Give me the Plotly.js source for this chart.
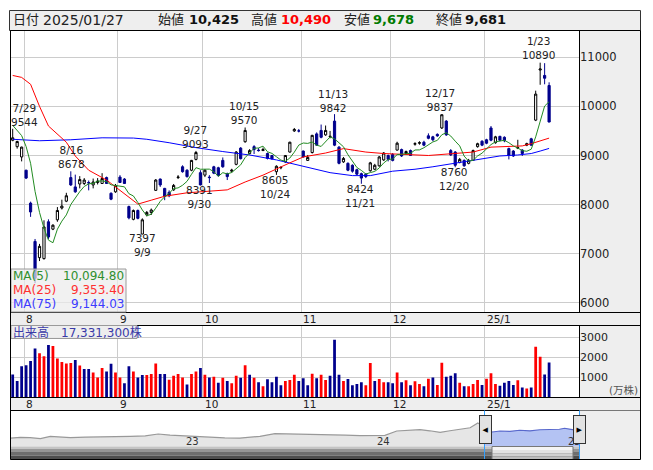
<!DOCTYPE html>
<html>
<head>
<meta charset="utf-8">
<script src="https://cdn.plot.ly/plotly-3.0.1.min.js"></script>
<style>
html,body{margin:0;padding:0;background:#ffffff;}
#chart{width:653px;height:470px;}
</style>
</head>
<body>
<div id="chart"></div>
<script>
// ---------------- DATA ----------------
const dates = ['2024-07-29','2024-07-30','2024-07-31',
'2024-08-01','2024-08-02','2024-08-05','2024-08-06','2024-08-07','2024-08-08','2024-08-09','2024-08-13','2024-08-14','2024-08-15','2024-08-16','2024-08-19','2024-08-20','2024-08-21','2024-08-22','2024-08-23','2024-08-26','2024-08-27','2024-08-28','2024-08-29','2024-08-30',
'2024-09-02','2024-09-03','2024-09-04','2024-09-05','2024-09-06','2024-09-09','2024-09-10','2024-09-11','2024-09-12','2024-09-13','2024-09-17','2024-09-18','2024-09-19','2024-09-20','2024-09-24','2024-09-25','2024-09-26','2024-09-27','2024-09-30',
'2024-10-01','2024-10-02','2024-10-03','2024-10-04','2024-10-07','2024-10-08','2024-10-09','2024-10-10','2024-10-11','2024-10-15','2024-10-16','2024-10-17','2024-10-18','2024-10-21','2024-10-22','2024-10-23','2024-10-24','2024-10-25','2024-10-28','2024-10-29','2024-10-30','2024-10-31',
'2024-11-01','2024-11-05','2024-11-06','2024-11-07','2024-11-08','2024-11-11','2024-11-12','2024-11-13','2024-11-14','2024-11-15','2024-11-18','2024-11-19','2024-11-20','2024-11-21','2024-11-22','2024-11-25','2024-11-26','2024-11-27','2024-11-28','2024-11-29',
'2024-12-02','2024-12-03','2024-12-04','2024-12-05','2024-12-06','2024-12-09','2024-12-10','2024-12-11','2024-12-12','2024-12-13','2024-12-16','2024-12-17','2024-12-18','2024-12-19','2024-12-20','2024-12-23','2024-12-24','2024-12-25','2024-12-26','2024-12-27','2024-12-30',
'2025-01-06','2025-01-07','2025-01-08','2025-01-09','2025-01-10','2025-01-14','2025-01-15','2025-01-16','2025-01-17','2025-01-20','2025-01-21','2025-01-22','2025-01-23','2025-01-24','2025-01-27'];

const open = [9310,9180,8970,8700,8030,7250,6920,6900,7650,7500,
 7690,7930,8070,8550,8360,8420,8430,8450,8400,8450,
 8430,8550,8230,8260,8560,8520,7960,7700,7880,7400,
 7790,7840,8290,8520,8330,8250,8300,8550,8770,8700,
 8700,8920,8650,8600,8560,8770,8750,8900,8630,8680,
 8820,9150,9280,9040,9180,9110,9100,9040,9000,8670,
 8750,8870,9070,9500,9500,9090,8900,9060,9440,9510,
 9420,9380,9700,9170,8870,8840,8800,8710,8630,8620,
 8690,8720,8790,8910,9000,9020,9110,9120,9040,9100,
 9230,9250,9270,9400,9380,9430,9560,9700,9100,9070,
 8860,8900,8840,8900,9180,9290,9320,9560,9260,9390,
 9370,9140,9090,9150,9110,9210,9340,9720,10740,10630,
 10425];

const high = [9544,9300,9180,8710,8060,7300,7200,7680,7700,7600,
 7950,8100,8240,8678,8610,8580,8540,8490,8530,8540,
 8640,8570,8250,8420,8600,8540,7980,7900,7900,7720,
 7870,7920,8520,8530,8340,8290,8420,8600,8800,8720,
 8910,9093,8700,8720,8600,8790,8770,8960,8650,8730,
 9090,9170,9570,9130,9210,9150,9160,9060,9010,8800,
 8770,9010,9280,9560,9540,9100,9010,9420,9470,9630,
 9610,9500,9842,9190,8970,8860,8820,8730,8650,8640,
 8870,8830,8990,9070,9020,9050,9280,9140,9100,9120,
 9270,9290,9300,9450,9400,9450,9837,9720,9130,9090,
 8950,8920,8930,9120,9260,9310,9340,9600,9400,9400,
 9390,9160,9110,9320,9130,9260,9360,10320,10890,10880,
 10490];

const low = [9290,9140,8880,8520,7750,6400,6850,6880,7300,7480,
 7650,7900,8050,8380,8240,8330,8400,8290,8330,8410,
 8420,8420,8090,8240,8440,8420,7700,7680,7700,7397,
 7760,7790,8280,8360,8090,8150,8280,8520,8650,8550,
 8680,8900,8391,8560,8440,8620,8570,8750,8500,8650,
 8800,8920,9260,9020,9030,9080,9090,8920,8920,8605,
 8720,8850,9060,9480,9470,8960,8890,9040,9200,9350,
 9400,9350,9190,8820,8850,8680,8650,8600,8424,8540,
 8670,8700,8770,8890,8880,8880,9100,8970,9020,8990,
 9200,9220,9190,9330,9290,9380,9540,9400,8990,8760,
 8840,8770,8820,8890,9160,9190,9230,9290,9240,9290,
 9270,8920,8970,9130,8990,9190,9200,9700,10440,10450,
 9678];

const close = [9360,9285,9170,8540,7850,6500,7150,7545,7340,7580,
 7880,7970,8180,8400,8260,8510,8500,8440,8460,8480,
 8530,8430,8110,8390,8450,8430,7730,7880,7720,7690,
 7840,7890,8500,8400,8170,8180,8390,8560,8670,8570,
 8900,9060,8400,8700,8550,8640,8590,8770,8570,8700,
 9070,8935,9510,9100,9120,9100,9120,8940,8930,8780,
 8760,9000,9270,9530,9500,8970,8960,9410,9210,9370,
 9510,9390,9210,8840,8940,8700,8680,8620,8540,8570,
 8850,8800,8970,9050,8920,8900,9250,8990,9080,9000,
 9240,9260,9210,9350,9320,9400,9830,9420,9010,8800,
 8920,8790,8900,9100,9240,9210,9250,9310,9380,9310,
 9300,9000,8990,9160,9040,9240,9210,10250,10760,10573,
 9681];

// volume in 万株 (10,000 shares)
const volume = [1148,816,1553,1605,1816,2430,2200,2042,2605,2553,
 1937,1763,1693,1710,1868,1588,1413,1413,1237,991,
 1465,1289,1675,1237,991,711,1553,1289,991,1114,
 1114,1167,1693,1167,1167,886,1079,1167,991,640,
 1167,1289,1465,1130,991,1030,728,975,816,711,
 1079,975,1605,1132,975,763,553,905,763,1026,
 605,816,868,1132,816,958,605,1184,958,1132,
 868,1079,2868,1132,816,921,605,675,763,605,
 1710,816,921,763,763,711,1237,763,860,613,
 808,675,553,937,991,621,1728,1026,1079,1202,
 728,553,553,675,868,621,937,1202,675,589,
 728,816,621,851,500,447,500,2516,2026,1147,
 1733.13];

// closes of the 4 sessions before 7/29 (for the 5-day average)
const preCloses = [9800, 9700, 9650, 9560];

// 25-day and 75-day moving averages (session index, value)
const ma25Idx = [0,2,4,6,8,12,14,17,21,25,28,31,34,39,43,48,52,56,62,65,70,74,79,83,93,100,103,107,114,116,120];
const ma25Val = [10630,10590,10450,10000,9600,9270,8990,8700,8500,8220,8010,8090,8170,8240,8260,8300,8460,8600,8850,8970,9050,9140,9070,9040,9000,9040,9070,9170,9195,9240,9353.40];
const ma75Idx = [0,6,13,20,27,30,35,41,47,53,59,63,66,71,76,80,85,90,94,100,104,109,113,116,118,120];
const ma75Val = [9330,9300,9320,9360,9355,9330,9260,9160,9080,9010,8910,8820,8760,8650,8590,8590,8680,8720,8770,8860,8930,8990,9010,9040,9090,9144.03];

const monthLabels = ['8','9','10','11','12','25/1'];

// price peaks / troughs marked on the chart
const markDates = ['2024-07-29','2024-08-16','2024-09-27','2024-09-30','2024-09-09','2024-10-15','2024-10-24','2024-11-13','2024-11-21','2024-12-17','2024-12-20','2025-01-23'];
const markKinds = ['H','H','H','L','L','H','L','H','L','H','L','H'];

// navigator overview series
const navDates = ['2022-01-22','2022-02-10','2022-03-01','2022-03-21','2022-04-09','2022-04-28','2022-05-18','2022-06-16','2022-07-16','2022-08-14','2022-09-11','2022-10-10','2022-11-04','2022-11-27','2022-12-16',
 '2023-01-14','2023-02-12','2023-03-13','2023-04-11','2023-05-20','2023-06-18','2023-07-17','2023-08-06','2023-09-04','2023-10-03','2023-11-01','2023-11-30','2023-12-29',
 '2024-01-17','2024-02-09','2024-03-05','2024-03-25','2024-04-13','2024-05-03','2024-05-22','2024-06-10','2024-06-30','2024-07-15','2024-07-29'];
const navValues = [7306,7471,7400,7165,7706,7518,7400,7541,7541,7635,7706,7824,8247,7988,7871,
 7588,7400,7353,7306,7706,8341,8294,8247,8176,8106,7988,7871,7871,
 7941,8953,9118,9282,9000,8647,9000,9282,9706,10835,9588];
const navViewDates = ['2024-07-29','2024-08-12','2024-08-27','2024-09-15','2024-10-04','2024-10-24','2024-11-12','2024-12-01','2024-12-20','2024-12-30','2025-01-14','2025-01-27'];
const navViewValues = [9588,8718,8953,8882,9118,9000,9235,9282,9353,9588,9282,9353];
const navYearLabels = ['23','24','25'];

// ---------------- BUILD ----------------
const FONT = 'DejaVu Sans, Noto Sans CJK JP, sans-serif';
const W = 653, H = 470;
const P = x => x / W, Q = y => 1 - y / H;
const idx = dates.map((d, i) => i);
const n = dates.length - 1;
const allC = preCloses.concat(close);
const ma5 = close.map((c, i) => (allC[i] + allC[i+1] + allC[i+2] + allC[i+3] + allC[i+4]) / 5);
const UP = '#ff0000', DOWN = '#00008c';
const volColor = close.map((c, i) => c >= (i ? close[i-1] : preCloses[preCloses.length-1]) ? UP : DOWN);
const monthStarts = idx.filter(i => i > 0 && dates[i].slice(0,7) !== dates[i-1].slice(0,7));
const gridPos = monthStarts.map(i => i - 0.45);
const XR = [-0.38, 126.69];
const fmt = v => Number(v).toLocaleString('en-US');
const fmt2 = v => Number(v).toLocaleString('en-US', {minimumFractionDigits:2, maximumFractionDigits:2});
const md = d => (+d.slice(5,7)) + '/' + (+d.slice(8,10));

const traces = [
  {type:'candlestick', x: idx, open: open, high: high, low: low, close: close,
   xaxis:'x', yaxis:'y', whiskerwidth:0, hoverinfo:'skip', showlegend:false,
   increasing:{line:{color:'#000000', width:1}, fillcolor:'#ffffff'},
   decreasing:{line:{color:DOWN, width:1}, fillcolor:DOWN}},
  {type:'scatter', mode:'lines', x: ma75Idx, y: ma75Val, xaxis:'x', yaxis:'y', line:{color:'#0000ff', width:1}, hoverinfo:'skip'},
  {type:'scatter', mode:'lines', x: ma25Idx, y: ma25Val, xaxis:'x', yaxis:'y', line:{color:'#ff0000', width:1}, hoverinfo:'skip'},
  {type:'scatter', mode:'lines', x: idx, y: ma5, xaxis:'x', yaxis:'y', line:{color:'#228b22', width:1}, hoverinfo:'skip'},
  {type:'bar', x: idx, y: volume, xaxis:'x2', yaxis:'y2', width:0.62, marker:{color: volColor, line:{width:0}}, hoverinfo:'skip'},
  {type:'scatter', mode:'lines', x: navDates, y: navValues, xaxis:'x3', yaxis:'y3', fill:'tozeroy', fillcolor:'#e6e6e6', line:{color:'#999999', width:1.2}, hoverinfo:'skip'},
  {type:'scatter', mode:'lines', x: navViewDates, y: navViewValues, xaxis:'x3', yaxis:'y3', fill:'tozeroy', fillcolor:'#b4c3f3', line:{color:'#5868cc', width:1.2}, hoverinfo:'skip'}
];

function rect(x0, y0, x1, y1, fill, lineColor, layer) {
  return {type:'rect', xref:'paper', yref:'paper', x0:P(x0), x1:P(x1), y0:Q(y1), y1:Q(y0),
    fillcolor: fill || 'rgba(0,0,0,0)', line:{color: lineColor || 'rgba(0,0,0,0)', width: lineColor ? 1 : 0}, layer: layer || 'below'};
}
function seg(x0, y0, x1, y1, color, layer) {
  return {type:'line', xref:'paper', yref:'paper', x0:P(x0), x1:P(x1), y0:Q(y0), y1:Q(y1), line:{color:color, width:1}, layer: layer || 'above'};
}

const shapes = [
  rect(579.5, 30.5, 640.5, 312.5, '#eeeeee'),
  rect(579.5, 325.5, 640.5, 397.5, '#eeeeee'),
  rect(10.5, 312.5, 640.5, 325.5, '#eeeeee', '#000000', 'above'),
  rect(10.5, 397.5, 640.5, 410.5, '#eeeeee', '#000000', 'above'),
  rect(9.5, 10.5, 640.5, 30.5, '#eeeeee', '#333333', 'above'),
  seg(579.5, 30.5, 579.5, 312.5, '#000000'),
  seg(579.5, 325.5, 579.5, 397.5, '#000000'),
  // legend boxes
  rect(11, 269, 126, 312, 'rgba(236,236,236,0.72)', '#9a9a9a', 'above'),
  rect(11, 325.5, 137, 338.5, 'rgba(236,236,236,0.9)', '#9a9a9a', 'above'),
  // navigator
  rect(579.5, 410.5, 640.5, 459.5, '#eeeeee', null, 'above'),
  rect(10.5, 446.5, 579.5, 449, '#c4c4c4', null, 'above'),
  rect(10.5, 449, 579.5, 452, '#969696', null, 'above'),
  rect(10.5, 452, 579.5, 455.5, '#6e6e6e', null, 'above'),
  rect(10.5, 455.5, 579.5, 459.5, '#4e4e4e', null, 'above'),
  rect(492, 447, 573, 450, '#f4f4f4', null, 'above'),
  rect(492, 450, 573, 453.5, '#e2e2e2', null, 'above'),
  rect(492, 453.5, 573, 456.5, '#d0d0d0', null, 'above'),
  rect(492, 456.5, 573, 459.5, '#bcbcbc', null, 'above'),
  rect(492, 446.5, 573, 459.5, null, '#777777', 'above'),
  seg(484.5, 410.5, 484.5, 459.5, '#33a0ff'),
  seg(579.5, 410.5, 579.5, 459.5, '#33a0ff'),
  // outer frame
  rect(10.5, 30.5, 640.5, 459.5, null, '#000000', 'above')
];

function txt(text, x, y, o) {
  o = o || {};
  return {text: text, xref:'paper', yref:'paper', x:P(x), y:Q(y), showarrow:false,
    xanchor: o.xa || 'center', yanchor:'middle', borderpad:0,
    font:{family:FONT, size:o.size || 11.5, color:o.color || '#222222'}};
}

const annotations = [];
// header
const hdr = [
  ['日付', 12, 13, '#222222'],
  [dates[n].replace(/-/g,'/'), 42, 14, '#222222'],
  ['始値', 157, 13, '#222222'],
  ['<b>' + fmt(open[n]) + '</b>', 187.5, 13, '#111111'],
  ['高値', 250, 13, '#222222'],
  ['<b>' + fmt(high[n]) + '</b>', 280, 13, '#ff0000'],
  ['安値', 343, 13, '#222222'],
  ['<b>' + fmt(low[n]) + '</b>', 372, 13, '#007a00'],
  ['終値', 434.5, 13, '#222222'],
  ['<b>' + fmt(close[n]) + '</b>', 464.5, 13, '#111111']
];
hdr.forEach(h => annotations.push(txt(h[0], h[1], 20, {xa:'left', size:h[2], color:h[3]})));

// peak / trough labels (two lines each)
const markPos = [[24.5,115],[71,157],[195.5,136.5],[199.5,197],[142.5,245],[243.8,113],
                 [275.5,187],[332.8,100.5],[359.5,195.5],[440,100],[454,179],[538.8,48.5]];
markDates.forEach((d, k) => {
  const i = dates.indexOf(d);
  const val = String(markKinds[k] === 'H' ? high[i] : low[i]);
  const text = markKinds[k] === 'H' ? md(d) + '<br>' + val : val + '<br>' + md(d);
  annotations.push(txt(text, markPos[k][0], markPos[k][1], {size:10.5}));
});

// month labels in both date strips
monthStarts.forEach((i, k) => {
  [319, 404].forEach(yy => {
    annotations.push({text: monthLabels[k], xref:'x', yref:'paper', x: i - 0.45, y: Q(yy), xshift: 1,
      showarrow:false, xanchor:'left', yanchor:'middle', borderpad:0,
      font:{family:FONT, size:10.5, color:'#222222'}});
  });
});

// MA legend
const maNames = ['MA(5)', 'MA(25)', 'MA(75)'];
const maColors = ['#2f8f2f', '#ff3030', '#3c3cff'];
const maLast = [ma5[n], ma25Val[ma25Val.length-1], ma75Val[ma75Val.length-1]];
[275.5, 289.5, 303.5].forEach((yy, k) => {
  annotations.push(txt(maNames[k], 11.5, yy, {xa:'left', size:12, color:maColors[k]}));
  annotations.push(txt(fmt2(maLast[k]), 124.5, yy, {xa:'right', size:12, color:maColors[k]}));
});
// volume label
annotations.push(txt('出来高\u3000' + fmt(Math.round(volume[n] * 10000)) + '株', 11.5, 332, {xa:'left', size:12, color:'#3a3aa8'}));
annotations.push(txt('(万株)', 623.5, 390, {size:10.5, color:'#555555'}));

// navigator year labels
[[192, 0], [383, 1], [574, 2]].forEach(p => annotations.push(txt(navYearLabels[p[1]], p[0], 441, {size:10, color:'#333333'})));
// navigator handles
[[485.5, '◀'], [579.5, '▶']].forEach(h => {
  annotations.push({text: h[1], xref:'paper', yref:'paper', x:P(h[0]), y:Q(429.5), showarrow:false,
    xanchor:'center', yanchor:'middle', width:11, height:27, borderpad:0, bgcolor:'#e2e2e2',
    bordercolor:'#333333', borderwidth:1, align:'center', valign:'middle',
    font:{family:FONT, size:7, color:'#000000'}});
});

const axisFont = {family:FONT, size:11.5, color:'#222222'};
const layout = {
  width: W, height: H,
  margin:{l:0, r:0, t:0, b:0, pad:0},
  paper_bgcolor:'#ffffff', plot_bgcolor:'rgba(0,0,0,0)',
  showlegend:false, hovermode:false, dragmode:false,
  font:{family:FONT},
  xaxis:{domain:[P(11), P(579)], range:XR, anchor:'y', tickvals:gridPos, showticklabels:false, ticks:'',
         showgrid:true, gridcolor:'#cccccc', gridwidth:1, zeroline:false, showline:false,
         rangeslider:{visible:false}, fixedrange:true},
  yaxis:{domain:[Q(312), Q(30.5)], range:[5813, 11545], anchor:'x', side:'right',
         tickvals:[6000,7000,8000,9000,10000,11000], tickformat:'d', ticks:'',
         showgrid:true, gridcolor:'#cccccc', gridwidth:1, zeroline:false, showline:false,
         tickfont:axisFont, fixedrange:true},
  xaxis2:{domain:[P(11), P(579)], range:XR, anchor:'y2', tickvals:gridPos, showticklabels:false, ticks:'',
          showgrid:true, gridcolor:'#cccccc', gridwidth:1, zeroline:false, showline:false, fixedrange:true},
  yaxis2:{domain:[Q(397.5), Q(326)], range:[0, 3550], anchor:'x2', side:'right',
          tickvals:[1000,2000,3000], tickformat:'d', ticks:'',
          showgrid:true, gridcolor:'#cccccc', gridwidth:1, zeroline:false, showline:false,
          tickfont:{family:FONT, size:11, color:'#222222'}, fixedrange:true},
  xaxis3:{domain:[P(10.5), P(640.5)], type:'date', range:['2022-01-22','2025-05-26'], anchor:'y3', visible:false, fixedrange:true},
  yaxis3:{domain:[Q(446.5), Q(411)], range:[5353, 13588], anchor:'x3', visible:false, fixedrange:true},
  shapes: shapes,
  annotations: annotations
};

Plotly.newPlot('chart', traces, layout, {staticPlot:true, displayModeBar:false});
</script>
</body>
</html>
